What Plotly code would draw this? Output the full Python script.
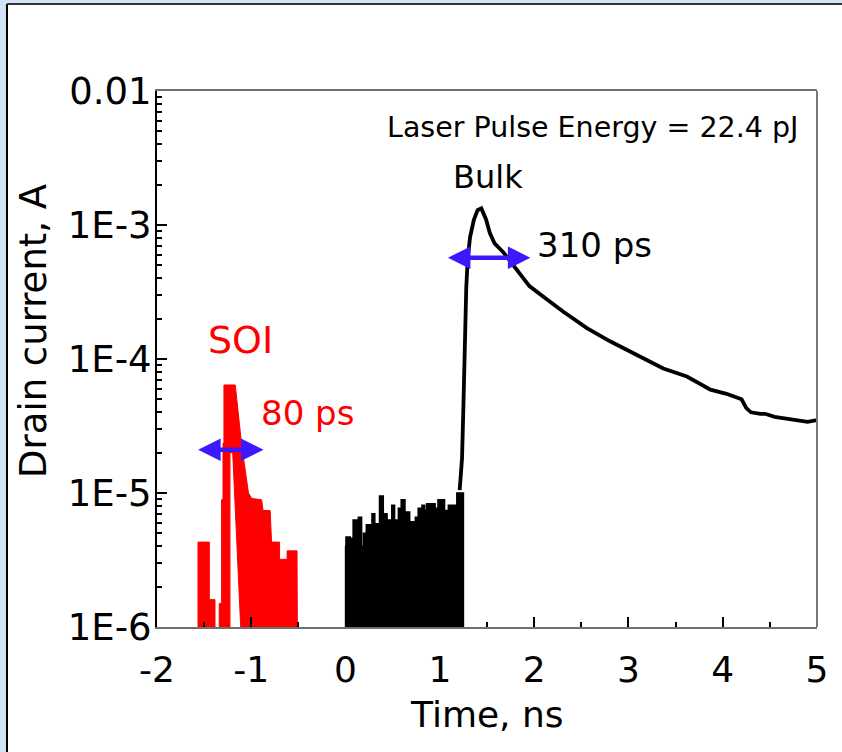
import math
import plotly.graph_objects as go

# ---------------- data ----------------
FLOOR = 1e-7  # signal dips below the visible range (clipped at 1E-6)

# SOI (red) - left small burst: upper envelope of the noisy record
soi_a_t = [-1.565, -1.565, -1.445, -1.445, -1.385, -1.385]
soi_a_i = [FLOOR, 4.3e-6, 4.3e-6, 1.6e-6, 1.6e-6, FLOOR]

# SOI (red) - main pulse: upper envelope, then lower edge back (white wedge)
soi_b_t = [-1.34, -1.34, -1.315, -1.315, -1.30, -1.30, -1.29, -1.29, -1.17,
           -1.13, -1.10, -1.065, -1.03, -0.995, -0.89, -0.875, -0.80, -0.785,
           -0.70, -0.70, -0.62, -0.62, -0.515, -0.505,
           -1.047, -1.197, -1.226, -1.226]
soi_b_i = [FLOOR, 1.5e-6, 1.5e-6, 8.9e-6, 8.9e-6, 2.35e-5, 2.35e-5, 6.4e-5, 6.4e-5,
           3.3e-5, 2.2e-5, 1.5e-5, 1.0e-5, 9.1e-6, 8.9e-6, 7.4e-6, 7.4e-6, 4.3e-6,
           4.3e-6, 3.2e-6, 3.2e-6, 3.7e-6, 3.7e-6, FLOOR,
           FLOOR, 2.0e-5, 2.0e-5, FLOOR]

# Bulk (black) - noisy baseline before the pulse: upper envelope
bulk_noise_t = [0.0, 0.004, 0.05, 0.08, 0.135, 0.17, 0.19, 0.22, 0.28, 0.31, 0.36,
                0.40, 0.44, 0.49, 0.52, 0.56, 0.59, 0.63, 0.68, 0.74, 0.77, 0.81,
                0.84, 0.86, 0.90, 0.91, 0.95, 0.98, 1.02, 1.05, 1.09, 1.14, 1.18, 1.21]
bulk_noise_i = [4.0e-6, 4.7e-6, 4.6e-6, 6.3e-6, 6.6e-6, 4.0e-6, 5.0e-6, 5.8e-6, 7.0e-6,
                5.9e-6, 9.5e-6, 7.0e-6, 6.3e-6, 8.1e-6, 6.3e-6, 7.7e-6, 8.9e-6, 7.2e-6,
                6.1e-6, 6.6e-6, 7.7e-6, 8.1e-6, 7.4e-6, 8.3e-6, 6.3e-6, 8.3e-6, 7.7e-6,
                8.9e-6, 8.9e-6, 7.4e-6, 8.1e-6, 8.1e-6, 1.0e-5, 1.0e-5]

# Bulk (black) - main transient
bulk_t = [1.21, 1.235, 1.25, 1.265, 1.28, 1.295, 1.32, 1.36, 1.40, 1.44, 1.49, 1.53,
          1.58, 1.67, 1.76, 1.85, 1.95, 2.13, 2.31, 2.56, 2.81, 3.09, 3.37, 3.62,
          3.87, 4.04, 4.15, 4.20, 4.25, 4.30, 4.40, 4.45, 4.55, 4.68, 4.80, 4.90, 5.0]
bulk_i = [1.05e-5, 1.8e-5, 4.5e-5, 1.6e-4, 3.4e-4, 5.5e-4, 8.1e-4, 1.09e-3, 1.29e-3,
          1.33e-3, 1.1e-3, 8.7e-4, 7.3e-4, 6.3e-4, 5.2e-4, 4.3e-4, 3.5e-4, 2.8e-4,
          2.25e-4, 1.7e-4, 1.35e-4, 1.07e-4, 8.5e-5, 7.4e-5, 5.9e-5, 5.5e-5, 5.1e-5,
          5.0e-5, 4.3e-5, 4.0e-5, 3.9e-5, 3.9e-5, 3.7e-5, 3.6e-5, 3.5e-5, 3.4e-5, 3.5e-5]

# FWHM arrows: [t_start, t_end, current]
soi_fwhm = [-1.58, -0.87, 2.1e-5]
bulk_fwhm = [1.07, 1.96, 5.7e-4]

y_tickvals = [1e-6, 1e-5, 1e-4, 1e-3, 1e-2]
y_ticktext = ["1E-6", "1E-5", "1E-4", "1E-3", "0.01"]
y_minor = [k * 10.0 ** e for e in range(-6, -2) for k in range(2, 10)]
x_tickvals = [-2, -1, 0, 1, 2, 3, 4, 5]
x_ticktext = ["-2", "-1", "0", "1", "2", "3", "4", "5"]

# ---------------- figure ----------------
FONT = "DejaVu Sans"
RED = "#ff0000"
BLUE = "#3d18ff"

fig = go.Figure()

fig.add_trace(go.Scatter(x=soi_a_t, y=soi_a_i, mode="lines", fill="toself",
                         fillcolor=RED, line=dict(color=RED, width=1),
                         hoverinfo="skip", showlegend=False))
fig.add_trace(go.Scatter(x=soi_b_t, y=soi_b_i, mode="lines", fill="toself",
                         fillcolor=RED, line=dict(color=RED, width=1),
                         hoverinfo="skip", showlegend=False))

noise_x = [bulk_noise_t[0]] + bulk_noise_t + [bulk_noise_t[-1] + 0.04, bulk_noise_t[-1] + 0.04]
noise_y = [FLOOR] + bulk_noise_i + [bulk_noise_i[-1], FLOOR]
fig.add_trace(go.Scatter(x=noise_x, y=noise_y, mode="lines", fill="toself",
                         fillcolor="black", line=dict(color="black", width=1.5, shape="hv"),
                         hoverinfo="skip", showlegend=False))

fig.add_trace(go.Scatter(x=bulk_t, y=bulk_i, mode="lines",
                         line=dict(color="black", width=3.8),
                         hoverinfo="skip", showlegend=False))

# FWHM double-headed arrows
for a in (soi_fwhm, bulk_fwhm):
    ly = math.log10(a[2])
    fig.add_annotation(x=a[1], y=ly, ax=a[0], ay=ly, xref="x", yref="y",
                       axref="x", ayref="y", text="", showarrow=True,
                       arrowhead=2, arrowside="end+start", arrowsize=1.0,
                       arrowwidth=4.5, arrowcolor=BLUE)


def label(text, x, y, size, color="black", xanchor="center"):
    fig.add_annotation(x=x, y=y, xref="x", yref="y", text=text, showarrow=False,
                       xanchor=xanchor, yanchor="middle",
                       font=dict(family=FONT, size=size, color=color))


label("Laser Pulse Energy = 22.4 pJ", 4.82, -2.276, 28.5, xanchor="right")
label("Bulk", 1.51, -2.64, 32)
label("310 ps", 2.01, -3.15, 34, xanchor="left")
label("SOI", -1.11, -3.86, 38, color=RED)
label("80 ps", -0.92, -4.40, 34, color=RED, xanchor="left")

# axis titles (placed as in the original slide)
fig.add_annotation(x=(33 - 157) / 660, y=(627 - 331) / 536, xref="paper", yref="paper",
                   text="Drain current, A", textangle=-90, showarrow=False,
                   xanchor="center", yanchor="middle",
                   font=dict(family=FONT, size=37, color="black"))
fig.add_annotation(x=(487 - 157) / 660, y=(627 - 714) / 536, xref="paper", yref="paper",
                   text="Time, ns", showarrow=False, xanchor="center", yanchor="middle",
                   font=dict(family=FONT, size=36, color="black"))

# page decorations (slide frame): blue page, white slide panel on it
fig.add_shape(type="rect", xref="paper", yref="paper", x0=-0.2273, x1=1.06,
              y0=-0.25, y1=1.1623, fillcolor="white", line=dict(width=0), layer="below")
fig.add_shape(type="line", xref="paper", yref="paper", x0=-0.2273, x1=-0.2273,
              y0=-0.2332, y1=1.1623, line=dict(color="black", width=2))
fig.add_shape(type="line", xref="paper", yref="paper", x0=-0.2273, x1=1.0379,
              y0=1.1623, y1=1.1623, line=dict(color="#333333", width=2))
fig.add_shape(type="line", xref="paper", yref="paper", x0=1, x1=1, y0=0, y1=1,
              line=dict(color="#777777", width=2))

fig.update_layout(
    width=842, height=752,
    margin=dict(l=157, r=25, t=91, b=125, autoexpand=False),
    paper_bgcolor="#d3e4f8", plot_bgcolor="white",
    font=dict(family=FONT, size=34, color="black"),
    showlegend=False,
)
fig.update_xaxes(
    range=[-2, 5], tickvals=x_tickvals, ticktext=x_ticktext, ticks="inside",
    ticklen=10, tickwidth=2, tickcolor="black", showline=True, linecolor="#6f6f6f",
    linewidth=2, mirror=True, showgrid=False, zeroline=False,
    tickfont=dict(family=FONT, size=36), ticklabelstandoff=10,
    minor=dict(dtick=0.5, ticks="inside", ticklen=5, tickwidth=2, tickcolor="black", showgrid=False),
    automargin=False,
)
fig.update_yaxes(
    type="log", range=[-6, -2], tickvals=y_tickvals, ticktext=y_ticktext,
    ticks="inside", ticklen=10, tickwidth=2, tickcolor="black",
    showline=True, linecolor="black", linewidth=2, mirror=False,
    showgrid=False, zeroline=False, tickfont=dict(family=FONT, size=37),
    ticklabelstandoff=-4,
    minor=dict(tickvals=y_minor, ticks="inside", ticklen=5, tickwidth=2, tickcolor="black", showgrid=False),
    automargin=False,
)

fig.write_html("out.html", config={"displayModeBar": False},
               post_script="document.body.style.margin='0px';")
